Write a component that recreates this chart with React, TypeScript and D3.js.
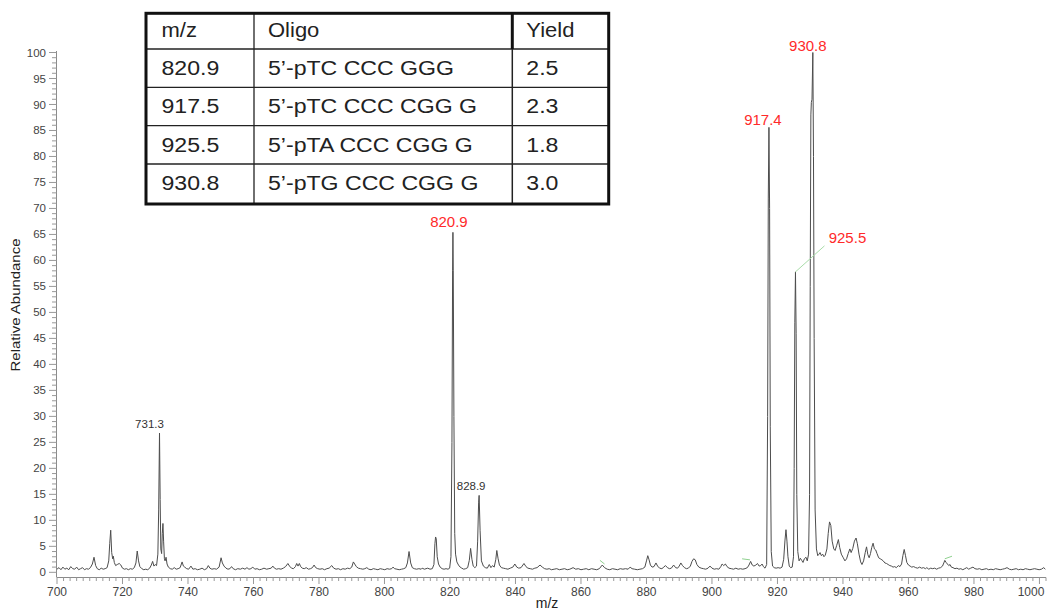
import { useEffect } from "react";
import * as d3 from "d3";

// profile trace: [m/z, relative abundance]
const spectrum: [number, number][] = [
  [700.0, 0.6], [700.6, 0.9], [701.2, 0.5], [701.8, 1.0], [702.4, 0.6], [703.0, 0.8], [703.6, 0.5], [704.2, 1.1], [704.8, 0.7], [705.4, 0.6],
  [706.0, 1.0], [706.6, 0.5], [707.2, 0.7], [707.8, 0.9], [708.4, 0.5], [709.0, 0.7], [709.6, 0.6], [710.2, 0.9], [710.8, 1.6], [711.3, 2.9],
  [711.8, 1.3], [712.3, 0.7], [712.9, 0.5], [713.5, 0.8], [714.1, 0.6], [714.7, 0.7], [715.3, 0.9], [715.8, 2.2], [716.1, 5.5], [716.4, 8.1],
  [716.7, 3.8], [717.0, 2.6], [717.2, 3.1], [717.5, 1.9], [717.9, 1.3], [718.4, 1.5], [719.0, 1.7], [719.5, 1.4], [720.0, 0.8], [720.6, 0.6],
  [721.2, 0.7], [721.8, 0.5], [722.4, 0.7], [723.0, 0.6], [723.6, 0.9], [724.1, 1.8], [724.5, 4.1], [724.9, 2.2], [725.3, 1.1], [725.9, 0.7],
  [726.5, 0.5], [727.1, 0.6], [727.7, 0.5], [728.3, 0.8], [728.8, 1.4], [729.2, 2.1], [729.6, 1.2], [730.0, 1.5], [730.4, 1.3], [730.8, 3.5],
  [731.05, 12], [731.3, 26.8], [731.5, 14], [731.7, 4.5], [731.95, 3.6], [732.15, 7.5], [732.35, 9.4], [732.55, 6.0], [732.8, 2.6], [733.0, 2.2],
  [733.3, 2.9], [733.6, 1.6], [734.0, 1.0], [734.6, 0.7], [735.2, 0.6], [735.8, 0.9], [736.4, 0.6], [737.0, 0.7], [737.6, 0.9], [738.2, 2.0],
  [738.6, 1.2], [739.0, 1.0], [739.6, 0.7], [740.2, 0.6], [740.9, 1.2], [741.5, 0.6], [742.2, 0.7], [742.9, 0.5], [743.6, 0.6], [744.3, 0.8],
  [745.0, 0.5], [745.7, 0.7], [746.2, 1.3], [746.7, 0.8], [747.3, 0.6], [748.0, 0.7], [748.7, 0.6], [749.5, 1.0], [750.1, 2.8], [750.5, 1.8],
  [751.0, 1.2], [751.6, 0.8], [752.2, 0.6], [752.8, 0.7], [753.3, 1.1], [753.8, 0.7], [754.5, 0.5], [755.2, 0.7], [756.0, 0.6], [756.7, 0.8],
  [757.4, 0.6], [758.0, 0.9], [758.6, 0.6], [759.2, 0.7], [759.8, 1.0], [760.4, 0.6], [761.1, 0.7], [761.8, 0.5], [762.5, 0.6], [763.2, 0.8],
  [764.0, 0.6], [764.7, 0.7], [765.4, 0.8], [765.9, 1.2], [766.4, 0.8], [767.0, 0.6], [767.7, 0.7], [768.4, 0.6], [769.1, 0.8], [769.8, 1.1],
  [770.5, 1.7], [771.0, 1.2], [771.6, 0.8], [772.2, 0.7], [772.8, 1.1], [773.2, 1.7], [773.6, 1.2], [774.0, 1.7], [774.4, 1.1], [774.9, 0.8],
  [775.5, 0.7], [776.1, 0.9], [776.8, 0.6], [777.4, 0.7], [778.0, 0.9], [778.5, 1.4], [779.0, 0.9], [779.6, 0.7], [780.3, 0.6], [781.0, 0.7],
  [781.7, 0.5], [782.4, 0.7], [783.1, 0.8], [783.9, 1.3], [784.5, 0.8], [785.2, 0.6], [785.9, 0.7], [786.6, 0.5], [787.3, 0.7], [788.0, 0.6],
  [788.7, 0.8], [789.4, 0.7], [790.0, 1.0], [790.5, 2.0], [790.9, 1.6], [791.4, 1.1], [792.0, 0.8], [792.7, 0.7], [793.4, 0.6], [794.0, 0.7],
  [794.6, 0.9], [795.2, 0.6], [795.9, 0.5], [796.6, 0.7], [797.3, 0.6], [798.0, 0.5], [798.7, 0.7], [799.4, 0.6], [800.1, 0.5], [800.8, 0.7],
  [801.5, 0.6], [802.2, 0.7], [802.6, 1.0], [803.1, 0.7], [803.8, 0.6], [804.5, 0.5], [805.2, 0.6], [805.9, 0.7], [806.5, 0.9], [807.0, 1.8],
  [807.5, 4.0], [808.0, 1.8], [808.5, 0.9], [809.1, 0.7], [809.8, 0.6], [810.5, 0.7], [811.2, 0.6], [811.5, 0.8], [812.2, 0.6], [813.2, 0.8],
  [813.9, 0.6], [814.6, 0.7], [815.1, 1.5], [815.4, 5.5], [815.6, 6.8], [815.8, 6.5], [816.1, 3.0], [816.5, 1.6], [817.0, 1.0], [817.6, 0.7],
  [818.2, 0.6], [818.8, 0.7], [819.4, 0.6], [819.9, 0.8], [820.3, 3], [820.6, 25], [820.8, 58], [820.9, 65.4], [821.0, 58], [821.2, 30],
  [821.45, 7.5], [821.7, 3.5], [822.1, 2.0], [822.6, 1.4], [823.1, 1.0], [823.6, 0.8], [824.2, 0.6], [824.8, 0.7], [825.4, 0.9], [825.9, 2.3],
  [826.3, 4.6], [826.7, 2.5], [827.1, 1.2], [827.6, 0.9], [828.1, 1.2], [828.45, 6], [828.75, 13.5], [828.9, 14.8], [829.2, 8], [829.6, 2.2],
  [830.2, 1.2], [830.8, 0.9], [831.4, 0.8], [832.0, 1.5], [832.5, 0.9], [833.0, 1.3], [833.5, 1.0], [834.0, 2.5], [834.3, 4.2], [834.7, 2.6],
  [835.1, 1.4], [835.7, 0.9], [836.3, 0.8], [837.0, 0.7], [837.7, 0.6], [838.4, 0.8], [839.2, 1.0], [839.8, 1.6], [840.4, 1.0], [841.0, 0.8],
  [841.7, 0.9], [842.6, 1.7], [843.2, 1.1], [843.8, 0.8], [844.5, 0.7], [845.2, 0.6], [845.9, 0.8], [846.6, 0.9], [847.5, 1.4], [848.2, 1.0],
  [848.9, 0.7], [849.6, 0.6], [850.3, 0.7], [851.0, 0.5], [851.8, 0.6], [852.6, 0.7], [853.4, 0.5], [854.2, 0.6], [855.0, 0.7], [855.8, 0.5],
  [856.6, 0.6], [857.6, 0.9], [858.4, 0.6], [859.2, 0.7], [860.0, 0.5], [860.8, 0.6], [861.6, 0.7], [862.4, 0.5], [863.2, 0.7], [864.0, 0.6],
  [864.8, 0.5], [865.6, 0.7], [866.5, 1.4], [867.2, 0.9], [868.0, 0.6], [868.8, 0.5], [869.6, 0.7], [870.4, 0.6], [871.2, 0.5], [872.0, 0.7],
  [872.8, 0.6], [873.6, 0.7], [874.4, 0.6], [875.0, 1.0], [875.6, 0.7], [876.4, 0.6], [877.2, 0.5], [878.0, 0.6], [878.8, 0.7], [879.5, 1.0],
  [880.0, 2.2], [880.4, 3.2], [880.8, 2.4], [881.2, 1.4], [881.7, 1.0], [882.3, 1.1], [882.9, 1.8], [883.4, 1.2], [884.0, 0.8], [884.7, 0.7],
  [885.3, 1.0], [885.8, 1.3], [886.4, 0.9], [887.0, 0.7], [887.6, 0.8], [888.3, 1.4], [888.9, 0.9], [889.5, 0.8], [890.0, 1.2], [890.5, 1.8],
  [891.0, 1.3], [891.6, 0.9], [892.2, 0.7], [892.8, 0.8], [893.4, 1.2], [893.9, 2.1], [894.4, 2.6], [894.9, 2.4], [895.4, 1.5], [896.0, 1.0],
  [896.7, 0.8], [897.4, 0.7], [898.1, 0.6], [898.8, 0.8], [899.4, 1.2], [900.0, 0.8], [900.7, 0.6], [901.4, 0.7], [902.1, 0.6], [902.7, 1.1],
  [903.1, 1.6], [903.6, 1.3], [904.1, 1.6], [904.6, 1.1], [905.2, 0.8], [905.9, 0.7], [906.6, 0.6], [907.3, 0.8], [908.0, 0.6], [908.7, 0.7],
  [909.4, 0.6], [910.1, 0.7], [910.8, 0.9], [911.3, 1.4], [911.8, 2.1], [912.3, 1.4], [912.8, 1.2], [913.4, 1.4], [913.9, 1.7], [914.4, 1.2],
  [914.9, 1.3], [915.3, 1.6], [915.7, 1.1], [916.2, 0.8], [916.7, 1.5], [917.0, 30], [917.2, 72], [917.4, 85.6], [917.6, 70], [917.8, 28],
  [918.1, 4], [918.5, 1.2], [919.0, 0.9], [919.6, 0.8], [920.2, 0.9], [920.8, 0.8], [921.4, 1.0], [921.9, 2.5], [922.3, 6.2], [922.6, 8.2],
  [922.9, 6.0], [923.2, 3.0], [923.6, 1.2], [924.0, 0.9], [924.5, 1.0], [924.9, 3], [925.1, 20], [925.3, 48], [925.5, 57.8], [925.7, 46],
  [925.9, 15], [926.2, 4], [926.6, 2.2], [927.0, 2.7], [927.4, 2.3], [927.8, 1.9], [928.2, 2.6], [928.7, 2.9], [929.1, 2.2], [929.5, 3.5],
  [929.8, 15], [930.0, 55], [930.2, 88], [930.35, 90.4], [930.55, 91], [930.8, 100], [931.0, 80], [931.2, 45], [931.5, 12], [931.9, 4.5],
  [932.3, 3.2], [932.7, 3.5], [933.0, 3.8], [933.4, 3.2], [933.8, 3.5], [934.2, 3.0], [934.6, 3.3], [935.1, 4.5], [935.5, 7.5], [935.9, 9.7],
  [936.3, 9.0], [936.7, 6.0], [937.2, 4.5], [937.6, 4.2], [938.1, 5.2], [938.6, 6.3], [939.0, 4.8], [939.5, 3.5], [940.1, 2.8], [940.6, 2.2],
  [941.1, 2.6], [941.6, 3.6], [942.1, 4.5], [942.5, 3.8], [943.0, 4.6], [943.5, 6.0], [944.0, 6.6], [944.4, 5.5], [944.9, 3.5], [945.4, 2.0],
  [945.8, 1.5], [946.3, 2.2], [946.8, 3.8], [947.2, 4.9], [947.6, 3.4], [948.0, 2.8], [948.4, 3.6], [948.8, 4.8], [949.2, 5.6], [949.6, 4.5],
  [950.0, 4.3], [950.4, 3.6], [950.9, 2.8], [951.4, 2.6], [951.9, 2.4], [952.3, 2.2], [952.8, 1.8], [953.3, 1.7], [953.8, 1.5], [954.3, 1.3],
  [954.8, 1.2], [955.3, 1.0], [955.8, 1.1], [956.3, 0.9], [956.9, 1.3], [957.4, 1.1], [957.9, 1.6], [958.3, 3.2], [958.7, 4.4], [959.1, 3.2],
  [959.5, 1.9], [960.0, 1.4], [960.5, 1.2], [961.0, 1.0], [961.6, 1.1], [962.2, 0.9], [962.8, 0.8], [963.4, 1.0], [964.0, 0.8], [964.6, 0.9],
  [965.2, 0.7], [965.6, 0.9], [966.2, 0.6], [966.8, 0.8], [967.4, 0.7], [968.0, 0.8], [968.6, 0.6], [969.2, 0.8], [969.8, 0.9], [970.4, 1.2],
  [970.8, 1.8], [971.1, 2.3], [971.5, 1.9], [971.9, 1.6], [972.3, 1.3], [972.7, 1.5], [973.1, 1.0], [973.6, 0.9], [974.2, 0.7], [974.8, 0.8],
  [975.4, 0.6], [976.0, 0.7], [976.6, 0.5], [977.2, 0.7], [977.8, 0.9], [978.4, 0.6], [979.0, 0.8], [979.7, 1.0], [980.3, 0.7], [981.0, 0.6],
  [981.7, 0.7], [982.4, 0.5], [983.1, 0.6], [983.8, 0.7], [984.5, 0.5], [985.2, 0.6], [985.9, 0.5], [986.6, 0.7], [987.3, 0.6], [988.0, 0.5],
  [988.7, 0.6], [989.4, 0.7], [990.1, 0.9], [990.8, 0.6], [991.5, 0.5], [992.2, 0.6], [992.9, 0.7], [993.6, 0.5], [994.3, 0.6], [995.0, 0.5],
  [995.7, 0.7], [996.4, 0.6], [997.1, 0.5], [997.8, 0.6], [998.5, 0.7], [999.2, 0.6], [999.9, 0.5], [1000.6, 0.6], [1001.3, 0.9], [1001.8, 0.6],
];

const xTicks = [700, 720, 740, 760, 780, 800, 820, 840, 860, 880, 900, 920, 940, 960, 980, 1000];
const yTicks = [0, 5, 10, 15, 20, 25, 30, 35, 40, 45, 50, 55, 60, 65, 70, 75, 80, 85, 90, 95, 100];

// annotated peaks
const peakLabels = [
  { mz: 930.8, value: 100, text: "930.8", red: true, dx: -5, dy: -2 },
  { mz: 917.4, value: 85.6, text: "917.4", red: true, dx: -6, dy: -2.5 },
  { mz: 820.9, value: 65.4, text: "820.9", red: true, dx: -4, dy: -5.5 },
  { mz: 925.5, value: 57.8, text: "925.5", red: true, dx: 52, dy: -29, leader: [29, -26] },
  { mz: 731.3, value: 26.8, text: "731.3", red: false, dx: -10, dy: -5.5 },
  { mz: 828.9, value: 14.8, text: "828.9", red: false, dx: -8, dy: -5.5 },
];

// little green leftover leader strokes
const stubs: [number, number, number, number][] = [
  [865.8, 2.3, 867.2, 1.6],
  [909.2, 2.6, 911.6, 2.4],
  [971.1, 2.6, 973.3, 3.1],
];

const tableHeader = ["m/z", "Oligo", "Yield"];
const tableMz = ["820.9", "917.5", "925.5", "930.8"];
const tableOligo = ["5\u2019-pTC CCC GGG", "5\u2019-pTC CCC CGG G", "5\u2019-pTA CCC CGG G", "5\u2019-pTG CCC CGG G"];
const tableYield = ["2.5", "2.3", "1.8", "3.0"];

const FONT = "'Liberation Sans', Arial, Helvetica, sans-serif";

export default function App() {
  useEffect(() => {
    document.body.style.margin = "0";
  }, []);

  const W = 1049, H = 610;
  const x = d3.scaleLinear().domain([700, 1002]).range([57, 1046]);
  const y = d3.scaleLinear().domain([-0.9, 100]).range([577, 52.5]);

  const line = d3.line<[number, number]>().x(d => x(d[0])).y(d => y(d[1]));

  const xMinor = d3.range(700, 1002.1, 2);
  const yMinor = d3.range(0, 100.1, 1);

  // table layout
  const tX = [146, 254, 512.3, 608.7];
  const tY = [13.3, 49, 87.3, 125.7, 164, 204];
  const rows = tableMz.map((m, i) => [m, tableOligo[i], tableYield[i]]);
  const pad = (j: number) => (j === 0 ? 15.5 : 14);

  return (
    <svg width={W} height={H} style={{ display: "block", background: "#fff" }} fontFamily={FONT}>
      {/* y axis */}
      <line x1={56.5} x2={56.5} y1={51} y2={577} stroke="#8a8a8a" strokeWidth={1} />
      {yMinor.map(v => (
        <line key={"ym" + v} x1={v % 5 === 0 ? 49 : 52} x2={56.5} y1={y(v)} y2={y(v)} stroke="#999" strokeWidth={1} />
      ))}
      {yTicks.map(v => (
        <text key={"yt" + v} x={46} y={y(v)} dy="0.35em" textAnchor="end" fontSize={11.5} fill="#444">{v}</text>
      ))}
      <text transform="translate(20,305) rotate(-90) scale(1.15,1)" textAnchor="middle" fontSize={13} fill="#222">Relative Abundance</text>

      {/* x axis */}
      <line x1={56.5} x2={1046} y1={577.5} y2={577.5} stroke="#8a8a8a" strokeWidth={1} />
      {xMinor.map(v => (
        <line key={"xm" + v} x1={x(v)} x2={x(v)} y1={577.5} y2={v % 20 === 0 ? 584 : 581} stroke="#999" strokeWidth={1} />
      ))}
      {xTicks.map(v => (
        <text key={"xt" + v} x={Math.min(x(v), W - 4 - 14)} y={596} textAnchor="middle" fontSize={12} fill="#444">{v}</text>
      ))}
      <text x={547} y={608} textAnchor="middle" fontSize={14} fill="#222">m/z</text>

      {/* spectrum */}
      <path d={line(spectrum) ?? ""} fill="none" stroke="#4d4d4d" strokeWidth={1} strokeLinejoin="round" />

      {stubs.map((s, i) => (
        <line key={"st" + i} x1={x(s[0])} y1={y(s[1])} x2={x(s[2])} y2={y(s[3])} stroke="#8fd18f" strokeWidth={1} />
      ))}

      {peakLabels.map(p => {
        const px = x(p.mz), py = y(p.value);
        return (
          <g key={p.text}>
            {p.leader && (
              <line x1={px} y1={py} x2={px + p.leader[0]} y2={py + p.leader[1]} stroke="#a8dca8" strokeWidth={1} />
            )}
            <text x={px + p.dx} y={py + p.dy} textAnchor="middle"
              fontSize={p.red ? 15 : 11.5} fill={p.red ? "#ff2a2a" : "#333"}>{p.text}</text>
          </g>
        );
      })}

      {/* table */}
      <g>
        <rect x={tX[0]} y={tY[0]} width={tX[3] - tX[0]} height={tY[5] - tY[0]} fill="#fff" stroke="none" />
        {tY.slice(1, 5).map(v => (
          <line key={"th" + v} x1={tX[0]} x2={tX[3]} y1={v} y2={v} stroke="#222" strokeWidth={1.3} />
        ))}
        <line x1={tX[1]} x2={tX[1]} y1={tY[0]} y2={tY[5]} stroke="#222" strokeWidth={1.3} />
        <line x1={tX[2]} x2={tX[2]} y1={tY[0]} y2={tY[1]} stroke="#111" strokeWidth={3} />
        <line x1={tX[2]} x2={tX[2]} y1={tY[1]} y2={tY[5]} stroke="#222" strokeWidth={1.5} />
        <rect x={tX[0]} y={tY[0]} width={tX[3] - tX[0]} height={tY[5] - tY[0]} fill="none" stroke="#111" strokeWidth={3} />
        {tableHeader.map((h, j) => (
          <text key={"hd" + j} transform={`translate(${tX[j] + pad(j)},${tY[0] + 24}) scale(1.1,1)`} fontSize={20} fill="#222">{h}</text>
        ))}
        {rows.map((r, i) =>
          r.map((c, j) => (
            <text key={"c" + i + j} transform={`translate(${tX[j] + pad(j)},${tY[i + 1] + 26}) scale(1.1,1)`} fontSize={21} fill="#222">{c}</text>
          ))
        )}
      </g>
    </svg>
  );
}
